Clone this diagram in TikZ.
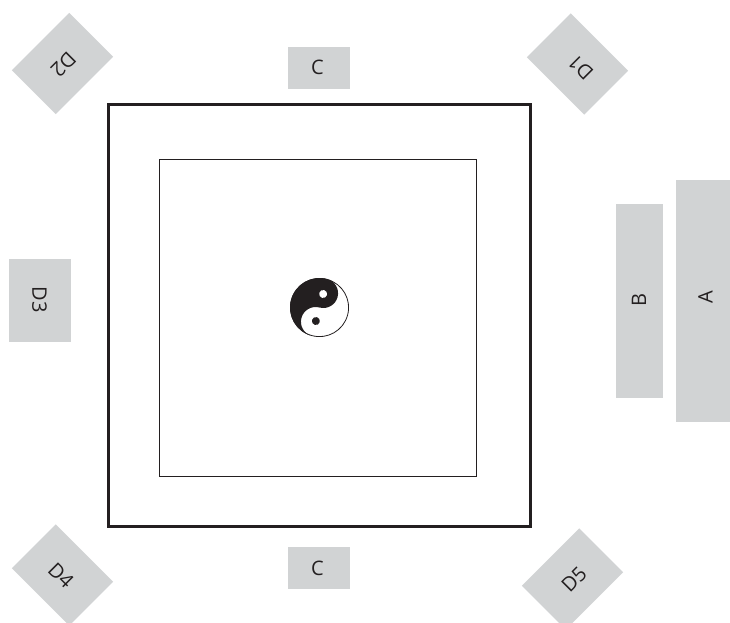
\documentclass[tikz,border=0pt]{standalone}
\usepackage{fontspec}
\setmainfont{Open Sans}
\definecolor{pad}{HTML}{D1D3D4}
\definecolor{ink}{HTML}{231F20}
\tikzset{
  padbox/.style={fill=pad,draw=none,inner sep=0pt},
  padtext/.style={inner sep=0pt,text=ink,font=\fontsize{20}{22}\selectfont},
  frame/.style={draw=ink}
}
\begin{document}
\begin{tikzpicture}[x=1pt,y=-1pt]
\useasboundingbox (0,0) rectangle (730,623);
\clip (0,0) rectangle (730,623);
\node[padbox,minimum width=62pt,minimum height=42pt] (ctop) at (319,68) {};
\node[padbox,minimum width=62pt,minimum height=42pt] (cbot) at (319,568) {};
\node[padbox,minimum width=83pt,minimum height=62pt,rotate=-90] (d3) at (40,300.5) {};
\node[padbox,minimum width=194pt,minimum height=47pt,rotate=90] (b) at (639.5,301) {};
\node[padbox,minimum width=242pt,minimum height=54pt,rotate=90] (a) at (703,301) {};
\node[padbox,minimum width=81pt,minimum height=62pt,rotate=225] (d2) at (62.5,63.5) {};
\node[padbox,minimum width=81pt,minimum height=62pt,rotate=135] (d1) at (577.5,64) {};
\node[padbox,minimum width=81pt,minimum height=62pt,rotate=-45] (d4) at (62.5,575) {};
\node[padbox,minimum width=81pt,minimum height=62pt,rotate=45] (d5) at (572.5,579) {};
\node[padtext] (ctoplabel) at (317.5,67.7) {C};
\node[padtext] (cbotlabel) at (317.5,568) {C};
\node[padtext,rotate=-90] (d3label) at (39.5,299.5) {D3};
\node[padtext,rotate=90] (blabel) at (639,300) {B};
\node[padtext,rotate=90] (alabel) at (705.5,297.5) {A};
\node[padtext,rotate=225] (d2label) at (63.5,64.5) {D2};
\node[padtext,rotate=135] (d1label) at (580.5,67.5) {D1};
\node[padtext,rotate=-45] (d4label) at (61,575.5) {D4};
\node[padtext,rotate=45] (d5label) at (574,579.5) {D5};
\draw[frame,line width=3pt] (108.5,104.5) rectangle (530.5,526.5);
\draw[frame,line width=1pt] (159,159) rectangle (476,476);
% yin-yang
\begin{scope}[shift={(319.5,307.5)},x=1pt,y=1pt,rotate=75]
  \fill[white] (0,0) circle (29.5);
  \fill[ink] (29.5,0) arc (0:180:29.5) arc (180:0:14.75) arc (180:360:14.75) -- cycle;
  \draw[ink,line width=0.8pt] (0,0) circle (29.1);
  \fill[white] (14.0,0) circle (4);
  \fill[ink] (-14.0,0) circle (4);
\end{scope}
\end{tikzpicture}
\end{document}
